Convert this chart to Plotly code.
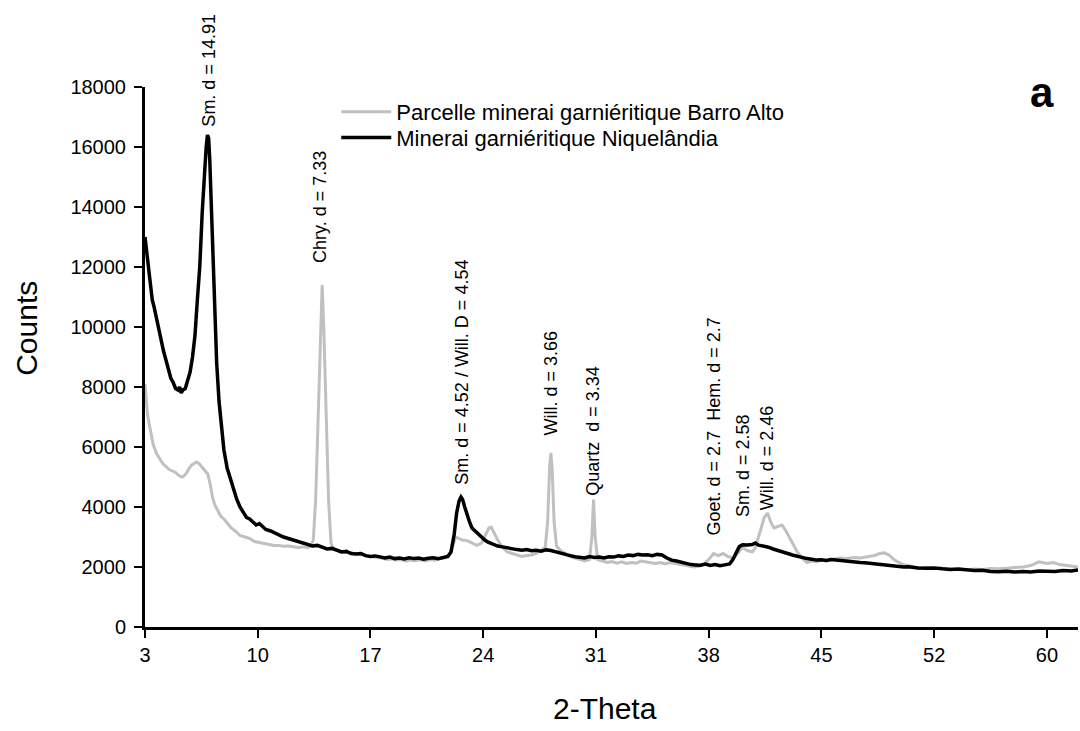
#!/usr/bin/env python
# XRD patterns: two garnieritic ores (Barro Alto vs Niquelandia)
import plotly.graph_objects as go

# Parcelle minerai garniéritique Barro Alto (grey)
barro_x = [3.0, 3.08, 3.15, 3.25, 3.35, 3.5, 3.7, 3.9, 4.1, 4.3, 4.5, 4.7, 4.9, 5.1, 5.3, 5.45, 5.6, 5.75, 5.9, 6.05,
           6.2, 6.35, 6.5, 6.7, 6.9, 7.05, 7.2, 7.35, 7.5, 7.7, 7.9, 8.1, 8.35, 8.6, 8.9, 9.2, 9.5, 9.8, 10.1, 10.4,
           10.7, 11.0, 11.3, 11.6, 11.9, 12.2, 12.5, 12.8, 13.1, 13.3, 13.45, 13.6, 13.75, 13.9, 14.0, 14.1, 14.25, 14.4, 14.55, 14.7,
           15.0, 15.3, 15.6, 15.9, 16.2, 16.5, 16.8, 17.1, 17.4, 17.7, 18.0, 18.3, 18.6, 18.9, 19.2, 19.5, 19.8, 20.1, 20.4, 20.7,
           21.0, 21.3, 21.6, 21.9, 22.1, 22.3, 22.5, 22.7, 23.0, 23.3, 23.6, 23.9, 24.15, 24.35, 24.5, 24.7, 24.9, 25.2, 25.5, 25.8,
           26.1, 26.4, 26.7, 27.0, 27.3, 27.6, 27.85, 28.0, 28.12, 28.2, 28.28, 28.4, 28.55, 28.8, 29.1, 29.4, 29.7, 30.0, 30.3, 30.6,
           30.75, 30.85, 30.95, 31.1, 31.4, 31.7, 32.0, 32.3, 32.6, 32.9, 33.2, 33.5, 33.8, 34.1, 34.4, 34.7, 35.0, 35.3, 35.6, 35.9,
           36.2, 36.5, 36.8, 37.1, 37.4, 37.7, 38.0, 38.3, 38.6, 38.9, 39.2, 39.5, 39.8, 40.1, 40.4, 40.7, 40.9, 41.2, 41.45, 41.65,
           41.85, 42.05, 42.3, 42.55, 42.8, 43.0, 43.25, 43.5, 43.8, 44.1, 44.4, 44.7, 45.0, 45.3, 45.6, 45.9, 46.2, 46.5, 46.8, 47.1,
           47.4, 47.7, 48.0, 48.3, 48.6, 48.9, 49.2, 49.5, 49.8, 50.1, 50.4, 50.7, 51.0, 51.5, 52.0, 52.5, 53.0, 53.5, 54.0, 54.5,
           55.0, 55.5, 56.0, 56.5, 57.0, 57.5, 58.0, 58.5, 59.0, 59.4, 59.8, 60.2, 60.6, 60.93]
barro_y = [8100, 7500, 7100, 6800, 6500, 6100, 5800, 5600, 5450, 5350, 5250, 5200, 5150, 5050, 5000, 5050, 5150, 5300, 5400, 5450,
           5500, 5450, 5350, 5250, 5100, 4750, 4300, 4050, 3900, 3700, 3600, 3450, 3300, 3200, 3050, 3000, 2950, 2850, 2820, 2780,
           2760, 2720, 2720, 2690, 2700, 2680, 2650, 2670, 2640, 2700, 2900, 4300, 7000, 10000, 11400, 10000, 7000, 4200, 2800, 2600,
           2550, 2500, 2480, 2450, 2420, 2400, 2380, 2350, 2320, 2300, 2250, 2270, 2230, 2250, 2200, 2230, 2210, 2240, 2200, 2250,
           2230, 2280, 2300, 2400, 2700, 3000, 2950, 2900, 2880, 2800, 2720, 2800, 3050, 3300, 3330, 3100, 2900, 2650, 2500, 2450,
           2400, 2350, 2380, 2400, 2450, 2550, 2650, 3500, 5300, 5800, 5300, 3500, 2700, 2550, 2450, 2350, 2300, 2250, 2200, 2250,
           3000, 4250, 3000, 2250, 2200, 2150, 2180, 2130, 2170, 2120, 2150, 2130, 2200, 2180, 2150, 2120, 2150, 2100, 2150, 2120,
           2080, 2050, 2020, 2000, 2020, 2100, 2250, 2450, 2380, 2450, 2350, 2300, 2450, 2650, 2550, 2500, 2650, 3200, 3650, 3800,
           3500, 3300, 3350, 3400, 3200, 3000, 2750, 2500, 2300, 2150, 2200, 2180, 2230, 2200, 2250, 2270, 2300, 2280, 2300, 2320,
           2300, 2330, 2350, 2380, 2450, 2470, 2400, 2250, 2150, 2080, 2050, 2000, 1970, 1990, 1950, 1960, 1940, 1920, 1900, 1930,
           1920, 1950, 1940, 1960, 1970, 2000, 2050, 2170, 2120, 2150, 2080, 2050, 2000, 2000]

# Minerai garniéritique Niquelândia (black)
niq_x = [3.0, 3.08, 3.15, 3.25, 3.35, 3.45, 3.55, 3.7, 3.85, 4.0, 4.15, 4.3, 4.45, 4.6, 4.75, 4.9, 5.05, 5.15, 5.25, 5.35,
         5.5, 5.65, 5.8, 5.95, 6.1, 6.25, 6.4, 6.55, 6.7, 6.8, 6.88, 6.95, 7.02, 7.1, 7.2, 7.3, 7.45, 7.6, 7.75, 7.9,
         8.1, 8.3, 8.5, 8.7, 8.9, 9.1, 9.3, 9.5, 9.7, 9.9, 10.1, 10.3, 10.5, 10.8, 11.0, 11.3, 11.6, 11.9, 12.2, 12.5,
         12.8, 13.1, 13.4, 13.7, 14.0, 14.3, 14.6, 14.9, 15.2, 15.5, 15.8, 16.1, 16.4, 16.7, 17.0, 17.3, 17.6, 17.9, 18.2, 18.5,
         18.8, 19.1, 19.4, 19.7, 20.0, 20.3, 20.6, 20.9, 21.2, 21.5, 21.8, 22.0, 22.2, 22.35, 22.5, 22.62, 22.72, 22.85, 23.0, 23.15,
         23.3, 23.5, 23.7, 23.9, 24.1, 24.3, 24.6, 24.9, 25.2, 25.5, 25.8, 26.1, 26.4, 26.7, 27.0, 27.3, 27.6, 27.9, 28.2, 28.5,
         28.8, 29.1, 29.4, 29.7, 30.0, 30.3, 30.6, 30.9, 31.2, 31.5, 31.8, 32.1, 32.4, 32.7, 33.0, 33.3, 33.6, 33.9, 34.2, 34.5,
         34.8, 35.1, 35.4, 35.7, 36.0, 36.3, 36.6, 36.9, 37.2, 37.5, 37.8, 38.1, 38.4, 38.7, 39.0, 39.3, 39.5, 39.7, 39.9, 40.1,
         40.4, 40.7, 40.9, 41.1, 41.4, 41.7, 42.0, 42.3, 42.6, 42.9, 43.2, 43.5, 43.8, 44.1, 44.4, 44.7, 45.0, 45.3, 45.6, 45.9,
         46.2, 46.5, 46.8, 47.1, 47.4, 47.7, 48.0, 48.3, 48.6, 48.9, 49.2, 49.5, 49.8, 50.1, 50.4, 50.7, 51.0, 51.5, 52.0, 52.5,
         53.0, 53.5, 54.0, 54.5, 55.0, 55.5, 56.0, 56.5, 57.0, 57.5, 58.0, 58.5, 59.0, 59.5, 60.0, 60.5, 60.93]
niq_y = [13000, 12600, 12200, 11900, 11300, 10900, 10700, 10300, 9900, 9500, 9200, 8900, 8600, 8300, 8150, 7950, 7900, 8000, 7800, 7900,
         7950, 8200, 8500, 9000, 9700, 10900, 12000, 13800, 15300, 16000, 16400, 16300, 15600, 14200, 12300, 10700, 8800, 7500, 6600, 5900,
         5300, 4950, 4600, 4250, 4000, 3800, 3650, 3600, 3500, 3400, 3450, 3350, 3250, 3200, 3150, 3050, 3000, 2950, 2900, 2850,
         2800, 2770, 2700, 2720, 2650, 2600, 2620, 2550, 2500, 2520, 2450, 2430, 2450, 2380, 2350, 2370, 2320, 2300, 2330, 2280,
         2300, 2270, 2310, 2280, 2300, 2260, 2290, 2310, 2280, 2320, 2350, 2500, 3100, 3800, 4200, 4330, 4250, 4000, 3700, 3500,
         3300, 3200, 3080, 2970, 2900, 2830, 2760, 2700, 2670, 2630, 2600, 2580, 2560, 2580, 2540, 2560, 2530, 2570, 2550, 2500,
         2470, 2420, 2380, 2340, 2330, 2300, 2350, 2320, 2330, 2300, 2340, 2330, 2370, 2350, 2400, 2380, 2420, 2400, 2410, 2380,
         2420, 2400, 2300, 2230, 2200, 2150, 2120, 2080, 2070, 2060, 2100, 2050, 2080, 2040, 2070, 2100, 2250, 2500, 2680, 2740,
         2730, 2750, 2800, 2730, 2700, 2660, 2600, 2560, 2500, 2450, 2400, 2350, 2320, 2280, 2260, 2230, 2240, 2220, 2250, 2230,
         2220, 2200, 2180, 2170, 2150, 2140, 2120, 2100, 2090, 2080, 2060, 2040, 2010, 2000, 2010, 1980, 1970, 1960, 1970, 1940,
         1920, 1930, 1900, 1880, 1890, 1850, 1840, 1860, 1830, 1850, 1830, 1870, 1860, 1850, 1880, 1870, 1900]

# peak labels
peak_labels = ["Sm. d = 14.91", "Chry. d = 7.33", "Sm. d = 4.52 / Will. D = 4.54", "Will. d = 3.66",
               "Quartz\u00a0 d = 3.34", "Goet. d = 2.7\u00a0 Hem. d = 2.7", "Sm. d = 2.58", "Will. d = 2.46"]
peak_x = [6.92, 13.87, 22.7, 28.15, 30.8, 38.3, 40.1, 41.6]
peak_y = [16600, 12070, 4670, 6300, 4300, 2970, 3600, 3830]

tick_pos = [3, 10, 17, 24, 31, 38, 45, 52, 59]
tick_text = ["3", "10", "17", "24", "31", "38", "45", "52", "60"]

FONT = "Liberation Sans, Arial, sans-serif"

fig = go.Figure()
fig.add_trace(go.Scatter(x=barro_x, y=barro_y, mode="lines",
                         name="Parcelle minerai garniéritique Barro Alto",
                         line=dict(color="#c0c0c0", width=3), legend="legend"))
fig.add_trace(go.Scatter(x=niq_x, y=niq_y, mode="lines",
                         name="Minerai garniéritique Niquelândia",
                         line=dict(color="#000000", width=3.5), legend="legend2"))

for lab, px, py in zip(peak_labels, peak_x, peak_y):
    fig.add_annotation(x=px, y=py, text=lab, textangle=-90, showarrow=False,
                       xanchor="center", yanchor="bottom",
                       font=dict(family=FONT, size=18, color="black"))

fig.add_annotation(x=-0.1265, y=0.554, xref="paper", yref="paper", text="Counts",
                   textangle=-90, showarrow=False, xanchor="center", yanchor="middle",
                   font=dict(family=FONT, size=30, color="black"))
fig.add_annotation(x=0.493, y=-0.15, xref="paper", yref="paper", text="2-Theta",
                   showarrow=False, xanchor="center", yanchor="middle",
                   font=dict(family=FONT, size=30, color="black"))
fig.add_annotation(x=0.961, y=0.989, xref="paper", yref="paper", text="<b>a</b>",
                   showarrow=False, xanchor="center", yanchor="middle",
                   font=dict(family=FONT, size=42, color="black"))

fig.update_xaxes(range=[3, 60.93], tickvals=tick_pos, ticktext=tick_text,
                 ticks="outside", ticklen=8, tickwidth=2, tickcolor="black",
                 showline=True, linecolor="black", linewidth=3,
                 showgrid=False, zeroline=False,
                 tickfont=dict(family=FONT, size=20, color="black"))
fig.update_yaxes(range=[0, 18000], dtick=2000, tickformat="d",
                 ticks="outside", ticklen=8, tickwidth=2, tickcolor="black",
                 showline=True, linecolor="black", linewidth=3,
                 showgrid=False, zeroline=False, ticklabelstandoff=4,
                 tickfont=dict(family=FONT, size=20, color="black"))

leg_font = dict(family=FONT, size=22, color="black")
fig.update_layout(width=1080, height=731,
                  margin=dict(l=145, r=2, t=87, b=104),
                  paper_bgcolor="white", plot_bgcolor="white",
                  font=dict(family=FONT, color="black"),
                  showlegend=True,
                  legend=dict(x=0.205, y=0.954, xanchor="left", yanchor="middle",
                              bgcolor="rgba(0,0,0,0)", itemwidth=50, font=leg_font),
                  legend2=dict(x=0.205, y=0.906, xanchor="left", yanchor="middle",
                               bgcolor="rgba(0,0,0,0)", itemwidth=50, font=leg_font))

# drop the default page margin so the figure sits at the top-left corner
fig.write_html("out.html", config={"displayModeBar": False},
               post_script="document.body.style.margin='0';")
